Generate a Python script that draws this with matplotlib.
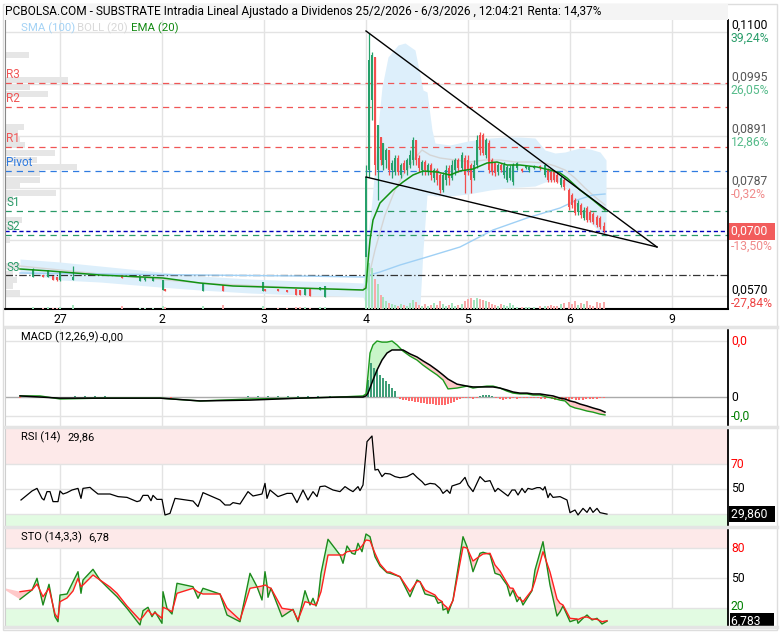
import numpy as np
import matplotlib.pyplot as plt
from matplotlib.patches import Rectangle
from matplotlib.lines import Line2D

plt.rcParams['font.family'] = ['Roboto', 'DejaVu Sans']

W, H = 782, 632

# x axis = 5-minute slots counted from the 27/2 open (one session = 102 slots)
day_pos = [0, 102, 204, 306, 408, 510, 612]
day_lab = ['27', '2', '3', '4', '5', '6', '9']

# ---- candles (price) ----
pre_x = [-27, -17, -12, -7, -3, 0, 13, 62, 80, 85, 93, 103, 105, 143, 163, 203, 205, 218, 227, 236, 240, 245, 250, 260, 265]
pre_o = [.0609, .0613, .0609, .0611, .0609, .0603, .0603, .0613, .0601, .0603, .0601, .0583, .0585, .0581, .0593, .0581, .0585, .0585, .0583, .0585, .0583, .0573, .0585, .0583, .0569]
pre_c = [.0625, .0609, .0623, .0603, .0603, .0619, .0609, .0607, .0609, .0607, .0607, .0603, .0581, .0597, .0581, .0599, .0581, .0581, .0579, .0573, .0573, .0587, .0571, .0589, .0591]
pre_h = [.0627, .0613, .0623, .0611, .0609, .0619, .0631, .0613, .0609, .0607, .0607, .0603, .0585, .0597, .0593, .0599, .0585, .0585, .0583, .0585, .0583, .0587, .0585, .0589, .0591]
pre_l = [.0609, .0609, .0609, .0603, .0601, .0601, .0603, .0607, .0601, .0601, .0601, .0583, .0581, .0581, .0581, .0581, .0581, .0581, .0579, .0573, .0573, .0573, .0571, .0583, .0569]
pre_v = [2, 1, 2, 1, 1, 2, 4, 3, 1, 1, 1, 3, 2, 3, 4, 3, 1, 1, 1, 2, 2, 2, 1, 2, 2]

d4_x = [306, 309, 312, 315, 318, 321, 323, 326, 329, 332, 335, 338, 341, 344, 347, 350, 353, 356, 359, 362,
        365, 368, 371, 374, 377, 380, 383, 386, 389, 392, 395, 398, 402, 405]
d4_o = [.0583, .0823, .0963, .1049, .0823, .0889, .0833, .0843, .0863, .0823, .0819, .0847, .0813, .0837, .0823, .0833, .0843, .0883, .0847, .0823,
        .0839, .0819, .0833, .0807, .0823, .0813, .0783, .0803, .0827, .0807, .0823, .0843, .0827, .0847]
d4_c = [.0809, .1043, .1053, .0833, .0913, .0843, .0877, .0863, .0823, .0837, .0847, .0819, .0833, .0823, .0843, .0853, .0883, .0843, .0827, .0839,
        .0823, .0833, .0813, .0823, .0803, .0783, .0813, .0823, .0807, .0833, .0843, .0827, .0853, .0813]
d4_h = [.0833, .1097, .1059, .1049, .0913, .0889, .0877, .0867, .0863, .0843, .0853, .0853, .0837, .0843, .0847, .0863, .0889, .0883, .0853, .0843,
        .0843, .0837, .0837, .0827, .0827, .0817, .0819, .0833, .0833, .0843, .0847, .0847, .0859, .0853]
d4_l = [.0583, .0809, .0923, .0813, .0763, .0833, .0823, .0827, .0813, .0807, .0813, .0813, .0807, .0817, .0813, .0827, .0833, .0833, .0819, .0813,
        .0813, .0813, .0803, .0799, .0793, .0777, .0779, .0793, .0793, .0803, .0813, .0819, .0823, .0777]
d4_v = [52, 46, 41, 30, 25, 14, 12, 8, 6, 5, 4, 3, 5, 4, 3, 6, 9, 7, 4, 3, 5, 3, 4, 6, 4, 8, 5, 3, 4, 6, 3, 4, 5, 8]

d5_x = [408, 411, 414, 417, 420, 423, 426, 429, 432, 435, 438, 441, 444, 447, 450, 453, 457, 462, 466, 469,
        474, 480, 485, 488, 491, 494, 497, 501, 504]
d5_o = [.0843, .0833, .0807, .0833, .0893, .0893, .0853, .0877, .0843, .0837, .0819, .0833, .0813, .0803, .0807, .0799, .0827, .0825, .0827, .0823,
        .0827, .0831, .0813, .0823, .0819, .0819, .0813, .0793, .0803]
d5_c = [.0823, .0803, .0833, .0883, .0863, .0857, .0883, .0823, .0819, .0817, .0833, .0823, .0833, .0829, .0827, .0833, .0837, .0821, .0831, .0829,
        .0831, .0827, .0833, .0803, .0803, .0803, .0799, .0807, .0789]
d5_h = [.0853, .0837, .0843, .0893, .0899, .0897, .0887, .0883, .0847, .0839, .0837, .0837, .0839, .0833, .0833, .0837, .0839, .0827, .0833, .0831,
        .0833, .0833, .0835, .0827, .0823, .0823, .0819, .0811, .0807]
d5_l = [.0813, .0777, .0803, .0827, .0853, .0853, .0847, .0817, .0813, .0811, .0813, .0819, .0807, .0799, .0803, .0793, .0823, .0819, .0825, .0819,
        .0825, .0823, .0809, .0799, .0799, .0799, .0797, .0789, .0783]
d5_v = [10, 11, 9, 11, 10, 9, 8, 7, 5, 4, 3, 5, 4, 3, 6, 4, 2, 2, 2, 2, 2, 3, 3, 3, 4, 3, 3, 5, 6]

d6_x = [509, 512, 515, 518, 521, 524, 527, 530, 533, 537, 540, 544]
d6_o = [.0783, .0773, .0763, .0739, .0753, .0727, .0747, .0739, .0735, .0729, .0727, .0711]
d6_c = [.0749, .0753, .0737, .0757, .0733, .0743, .0723, .0723, .0719, .0713, .0709, .0701]
d6_h = [.0787, .0777, .0767, .0763, .0757, .0749, .0751, .0743, .0739, .0733, .0731, .0719]
d6_l = [.0743, .0747, .0733, .0733, .0727, .0723, .0719, .0719, .0715, .0709, .0705, .0697]
d6_v = [7, 5, 8, 4, 6, 5, 8, 4, 3, 7, 6, 7]

# ---- overlays ----
ema_x = [-40, -10, 40, 103, 140, 173, 237, 303, 306, 308, 310, 313, 320, 333, 343, 353, 363, 377, 390, 400,
         413, 427, 437, 447, 460, 477, 490, 500, 507, 520, 533, 545]
ema_y = [.0625, .0621, .0613, .0607, .0597, .0591, .0587, .0583, .0587, .0639, .0683, .0723, .0757, .0783, .0799, .0813, .0821, .0819, .0813, .0821,
         .0825, .0837, .0839, .0833, .0833, .0829, .0823, .0817, .0807, .0783, .0763, .0743]
sma_x = [-40, 40, 140, 240, 303, 320, 340, 367, 400, 433, 467, 500, 517, 533, 545]
sma_y = [.0617, .0615, .0613, .0611, .0609, .0619, .0633, .0649, .0669, .0703, .0727, .0747, .0763, .0773, .0775]
band_x = [-40, 0, 40, 100, 140, 190, 240, 280, 303, 306, 312, 318, 322, 328, 338, 345, 355, 360, 363, 367,
          372, 375, 390, 408, 430, 445, 460, 475, 485, 495, 505, 512, 520, 530, 540, 546]
band_hi = [.0645, .0639, .0631, .0619, .0611, .0605, .0601, .0599, .0597, .0663, .0763, .0909, .0989, .1049, .1073, .1077, .1063, .1013, .0983, .0979,
           .0903, .0877, .0873, .0881, .0887, .0889, .0889, .0887, .0863, .0857, .0859, .0863, .0867, .0865, .0859, .0843]
band_lo = [.0619, .0603, .0599, .0589, .0583, .0577, .0573, .0571, .0569, .0553, .0549, .0549, .0549, .0549, .0549, .0549, .0549, .0553, .0663, .0773,
           .0773, .0771, .0771, .0775, .0783, .0787, .0789, .0791, .0799, .0803, .0793, .0763, .0739, .0719, .0699, .0689]
mid_x = [-40, 40, 140, 240, 303, 308, 315, 325, 335, 345, 355, 362, 370, 380, 395, 410, 425, 440, 455, 470,
         485, 495, 505, 515, 525, 535, 545]
mid_y = [.0631, .0615, .0597, .0587, .0583, .0603, .0663, .0733, .0783, .0819, .0847, .0863, .0853, .0847, .0843, .0839, .0843, .0843, .0839, .0839,
         .0837, .0831, .0823, .0807, .0787, .0769, .0753]
trend_up_x = [306, 597]
trend_up_y = [.1101, .0669]
trend_lo_x = [306, 597]
trend_lo_y = [.0809, .0669]

# pivots
piv_names = ['R3', 'R2', 'R1', 'Pivot', 'S1', 'S2', 'S3']
piv_lvls = [.0997, .0949, .0869, .0821, .0741, .0693, .0612]
last_price = 0.0700

# volume-by-price profile on the left (relative volume)
prof_p = [.1053, .1003, .0989, .0975, .0909, .0897, .0885, .0873, .0857, .0843, .0829, .0817, .0803, .0791, .0777, .0765,
          .0723, .0709, .0683, .0631, .0615, .0603, .0591, .0577]
prof_v = [24, 63, 25, 43, 19, 13, 15, 20, 50, 32, 72, 35, 35, 15, 51, 8, 17, 8, 5, 15, 8, 12, 8, 15]

price_ticks = [0.1100, 0.0995, 0.0891, 0.0787, 0.0683, 0.0570]
price_lab = ['0,1100', '0,0995', '0,0891', '0,0787', '', '0,0570']
pct_lab = ['39,24%', '26,05%', '12,86%', '-0,32%', '', '-27,84%']

# ---- MACD (x1e-4) ----
macd_x = [-40, -20, 0, 40, 100, 140, 190, 240, 280, 303, 306, 308, 310, 313, 317, 322, 327, 332, 337, 343,
          350, 357, 363, 370, 377, 383, 388, 397, 407, 413, 420, 427, 433, 440, 447, 453, 460, 467, 473, 480,
          487, 493, 500, 505, 510, 515, 520, 527, 533, 540, 545]
macd_g = [0.4, 0.4, -0.7, -0.4, -0.4, -1.4, -0.7, -0.4, 0, 0.4, 1.1, 7.9, 15.7, 18.6, 20.0, 19.6, 19.6, 20.0, 18.6, 16.4,
          14.6, 13.2, 11.4, 9.6, 7.9, 6.1, 2.9, 3.2, 3.9, 3.2, 3.6, 3.9, 3.9, 3.2, 2.1, 1.4, 1.1, 1.1, 0.7, 0.7,
          0, -0.4, -1.1, -1.4, -3.2, -3.9, -4.3, -5.0, -5.4, -6.1, -6.4]
macd_b = [0.4, 0, -0.4, -0.4, -0.4, -1.4, -1.1, -0.4, 0, 0, 0.4, 1.4, 3.2, 6.1, 9.6, 13.2, 15.7, 16.8, 16.8, 16.8,
          15.4, 14.3, 12.9, 11.4, 9.6, 7.9, 6.4, 4.6, 3.9, 3.6, 3.6, 3.6, 3.6, 3.2, 2.5, 1.8, 1.4, 1.4, 1.1, 1.1,
          0.7, 0.4, -0.4, -0.7, -1.4, -1.8, -2.5, -3.2, -3.9, -4.6, -5.4]
hist_x = [-40, 15, 25, 35, 45, 111, 188, 198, 208, 218, 228, 238, 248, 258, 270,
          308, 311, 314, 317, 320, 323, 326, 329, 332, 335, 340, 343, 346, 349, 352, 355, 358, 361, 364, 367,
          370, 373, 376, 379, 382, 385, 388, 391, 394, 397, 400, 403, 406, 410, 413, 417, 420, 423, 426, 429,
          432, 436, 440, 443, 446, 450, 453, 457, 460, 464, 467, 471, 474, 478, 481, 485, 488, 492, 495, 499,
          502, 506, 509, 512, 516, 519, 523, 526, 530, 533, 537, 540, 544]
hist_v = [-0.4, 0.4, 0.4, 0.4, 0.4, -0.4, 0.4, 0.4, 0.4, 0.4, 0.4, 0.4, 0.4, 0.4, 0.4,
          6.1, 12.1, 10.4, 9.6, 7.9, 6.8, 5.7, 4.6, 3.2, 2.1, -0.7, -1.1, -1.1, -1.4, -1.4, -1.8, -1.8, -2.1, -2.1, -2.5,
          -2.5, -2.5, -2.9, -2.9, -2.9, -2.9, -2.5, -2.1, -1.8, -1.1, -0.7, -0.4, -0.4, -0.4, -0.7, -0.4, 0.4, 0.7, 0.7, 0.7,
          0.4, -0.4, -0.7, -1.1, -0.7, -0.7, -0.4, -0.7, -0.4, -0.4, -0.4, -0.4, -0.4, -0.4, -0.7, -0.7, -0.4, -0.7, -1.1, -1.1,
          -1.1, -1.1, -1.1, -0.7, -1.1, -1.1, -1.1, -0.7, -0.7, -0.7, -0.7, -0.4, -0.4]

# ---- RSI ----
rsi_x = [-39, -28, -23, -18, -16, -13, -10, -7, -2, 0, 3, 7, 12, 18, 21, 23, 30, 33, 38, 50,
         58, 67, 77, 80, 83, 88, 91, 93, 97, 102, 105, 110, 115, 133, 138, 143, 160, 165, 170, 173,
         180, 188, 193, 202, 205, 207, 210, 218, 227, 232, 237, 243, 248, 253, 257, 260, 265, 273, 280, 285,
         290, 293, 298, 300, 303, 307, 312, 315, 318, 322, 325, 330, 335,
         340, 347, 353, 357, 362, 365, 370, 375, 380, 383, 387, 390, 392, 400, 405, 408, 413, 420, 425, 430,
         435, 438, 448, 452, 455, 458, 462, 465, 468, 472, 477, 480, 483, 485, 488, 490, 493, 500, 507, 510,
         515, 518, 523, 527, 530, 533, 537, 540, 547]
rsi_v = [41.2, 48.4, 50.5, 42.5, 41.2, 47.9, 47.9, 39.9, 39.9, 48.4, 46, 47.1, 49.2, 50.5, 42.5, 50.5, 51.3, 49.2, 46, 46,
         43.9, 43.3, 39.9, 40.6, 44.9, 44.9, 40.6, 44.9, 41.7, 41.7, 29.2, 30.5, 42.5, 40.4, 35.9, 47.1, 41.2, 37.2, 37.2, 39.1,
         38, 47.9, 44.4, 46, 54.5, 42.5, 49.2, 43.9, 46.5, 46.5, 39.1, 49.2, 41.2, 47.9, 43.9, 51.9, 52.4, 49.2, 47.9, 51.9,
         49.2, 47.9, 51.9, 48.7, 53.2, 87.9, 92.4, 65.2, 65.7, 59.9, 62.5, 62, 59.9,
         59.0, 59.9, 62.5, 59.3, 55.9, 53.2, 54.5, 54, 50.5, 46.5, 49.2, 46.5, 52.4, 54.5, 59.3, 53.2, 47.9, 59.9, 55.9, 56.7,
         47.9, 50.5, 44.4, 49.2, 49.2, 45.2, 50.5, 47.1, 50.5, 49.7, 51.1, 51.1, 49.2, 51.9, 43.1, 46.5, 43.3, 43.9, 41.2, 31.1,
         33.2, 29.2, 34.5, 31.3, 35.3, 31.3, 34.5, 31.1, 29.9]

# ---- Stochastic ----
sto_x = [-55, -40, -28, -23, -17, -11, -5, -2, 0, 7, 13, 18, 21, 23, 33, 40, 50, 57, 67, 80,
         83, 88, 92, 95, 102, 103, 107, 112, 117, 133, 138, 143, 160, 167, 180, 190, 197, 202, 205, 207,
         208, 211, 222, 233, 238, 245, 250, 253, 256, 258, 261, 268, 280, 283, 287, 292, 295, 298, 302, 306,
         310, 315, 320, 327,
         330, 340, 350, 357, 360, 365, 375, 378, 382, 383, 387, 388, 393, 403, 407, 413, 420, 423, 430, 435,
         440, 447, 450, 453, 457, 460, 463, 472, 475, 483, 490, 497, 500, 503, 510, 517, 518, 523, 527, 532,
         537, 542, 547]
sto_k = [38, 28.7, 38, 49.7, 23, 43.7, 11.3, 6.3, 33, 34, 46.3, 56.3, 34.7, 48, 58.7, 48, 38, 31.3, 19.7, 3,
         17.3, 20.7, 11.3, 16.3, 4.7, 36.3, 19.7, 14, 44.7, 41.3, 29.7, 39.7, 34, 13, 6.3, 54.7, 41.3, 28, 56.3, 43,
         30.7, 39.7, 11.3, 18.7, 6.3, 37.3, 23, 29.7, 22, 28, 54.7, 88.7, 73, 64.7, 82, 74.7, 73.7, 84.7, 76.3, 94,
         91.3, 71.3, 62, 55.3,
         54.7, 51.3, 31.3, 48, 46.3, 34, 31.3, 24.7, 26.3, 18, 19.7, 14.7, 28, 91.3, 81.3, 56.3, 74.7, 75.7, 73.7, 54.7,
         53, 43, 32, 38, 26.3, 30.7, 23, 37.3, 58, 86.3, 43, 12, 16.3, 22, 6.3, 8.7, 4.7, 9.7, 13, 8,
         9.7, 4, 6.8]
sto_d = [39.7, 36.3, 38, 44, 31.3, 39.7, 14, 9.7, 26.3, 30, 37, 49.7, 41.3, 43, 53, 48, 41, 34.7, 22, 8,
         11.3, 18, 13, 15.3, 9.7, 20.7, 19, 16.3, 34.7, 39.7, 36, 34, 34, 20, 8, 39.7, 41, 42, 43, 42,
         41, 39.7, 19.7, 18, 8, 26.3, 25, 23.5, 23, 28, 36.3, 73, 73, 73, 76.3, 77, 77.5, 78, 82, 88,
         87.3, 74.7, 64, 56,
         56, 51.3, 36.3, 46.5, 46.3, 38, 33, 29, 26.5, 24, 20.5, 18, 27.5, 81, 80, 67, 72, 74, 74.7, 63,
         57, 45, 40, 39.7, 32, 29, 26.3, 38, 47, 76.3, 56, 29, 24.7, 23, 9.7, 9, 8.5, 10.7, 11, 9,
         8.7, 6.3, 7.3]

# ---------------------------------------------------------------
GREEN, RED = '#26a06a', '#f24e4e'
VGREEN, VRED = '#a3e3bd', '#f8a9a9'
GRID = '#e3e3e3'
FS = 8.3   # axis labels
FL = 8.0   # panel headers / legend

fig = plt.figure(figsize=(W / 100, H / 100), dpi=100)


def panel(top, bottom):
    return fig.add_axes([5 / W, 1 - bottom / H, 723 / W, (bottom - top) / H])


ax = panel(20, 309)
axm = panel(327, 427)
axr = panel(427, 527)
axs = panel(527, 627)

for a in (ax, axm, axr, axs):
    a.set_xlim(-55, 668)
    for d in day_pos:
        a.axvline(d, color=GRID, lw=1, zorder=0)
    a.set_yticks([])
    a.tick_params(axis='x', length=0)
    for s in ('top', 'bottom'):
        a.spines[s].set_visible(False)
    a.spines['left'].set_color('#cfcfcf')
    a.spines['right'].set_color('black')
    a.spines['right'].set_linewidth(1.3)
    if a is not ax:
        a.set_xticks([])

# ---- main price panel ----
ax.set_ylim(0.0545, 0.1123)
ax.spines['bottom'].set_visible(True)
ax.spines['bottom'].set_color('black')
ax.spines['bottom'].set_linewidth(1.5)
ax.spines['left'].set_color('#888888')
ax.set_xticks(day_pos, day_lab, fontsize=8.8)
ax.tick_params(axis='x', pad=3)
for p in price_ticks:
    ax.axhline(p, color=GRID, lw=1, zorder=0)

ytr = ax.get_yaxis_transform()
xtr = ax.get_xaxis_transform()
for p, v in zip(prof_p, prof_v):
    ax.add_patch(Rectangle((0, p - 0.0006), v / 723, 0.0012, transform=ytr,
                           facecolor='#e6e6e6', lw=0, zorder=0.5))

ax.fill_between(band_x, band_lo, band_hi, color='#ddeffb', lw=0, zorder=1)

piv_col = ['#f05656', '#f05656', '#f05656', '#2f7be0', '#2a9a68', '#2a9a68', '#2a9a68']
for name, lv, col in zip(piv_names, piv_lvls, piv_col):
    ls = (0, (6, 2, 1, 2)) if name == 'S3' else (0, (5, 4))
    lc = '#333333' if name == 'S3' else col
    ax.axhline(lv, color=lc, lw=0.9, ls=ls, zorder=2)
    ax.text(0.002, lv + 0.0003, name, transform=ytr, color=col, fontsize=8.5, va='bottom', ha='left', zorder=6)
ax.axhline(last_price, color='#0000bb', lw=1, ls=(0, (3, 2)), zorder=2)

ax.plot(mid_x, mid_y, color='#d5d5d5', lw=1, zorder=2.5)
ax.plot(sma_x, sma_y, color='#9fd0f5', lw=1, zorder=2.6)

cx = pre_x + d4_x + d5_x + d6_x
co = pre_o + d4_o + d5_o + d6_o
cc = pre_c + d4_c + d5_c + d6_c
chi = pre_h + d4_h + d5_h + d6_h
clo = pre_l + d4_l + d5_l + d6_l
cv = pre_v + d4_v + d5_v + d6_v
up = [c >= o for o, c in zip(co, cc)]
cols = [GREEN if u else RED for u in up]
ax.vlines(cx, clo, chi, colors=cols, lw=0.9, zorder=3)
ax.bar(cx, [max(abs(c - o), 0.00018) for o, c in zip(co, cc)], bottom=[min(o, c) for o, c in zip(co, cc)],
       width=2.0, color=cols, lw=0, zorder=3)
ax.bar(cx, [v / 290 for v in cv], bottom=0, width=2.0, color=[VGREEN if u else VRED for u in up],
       lw=0, transform=xtr, zorder=3.5)
ax.set_ylim(0.0545, 0.1123)

ax.plot(ema_x, ema_y, color='#129212', lw=1.1, zorder=4)
ax.plot(trend_up_x, trend_up_y, color='black', lw=1, zorder=4.5)
ax.plot(trend_lo_x, trend_lo_y, color='black', lw=1, zorder=4.5)

pcol = ['black', '#555555', '#555555', '#555555', '', 'black']
pctc = ['#2a9d6a', '#55bb8a', '#55bb8a', '#f08a8a', '', '#ee4444']
for p, pl, pc, c1, c2 in zip(price_ticks, price_lab, pct_lab, pcol, pctc):
    if pl:
        ax.text(1.004, p, pl, transform=ytr, color=c1, fontsize=FS + 0.4, va='bottom', ha='left')
        ax.text(1.004, p, pc, transform=ytr, color=c2, fontsize=FS + 0.4, va='top', ha='left')
ax.text(1.004, last_price, '0,0700  ', transform=ytr, color='white', fontsize=FS + 0.4, va='center', ha='left',
        bbox=dict(boxstyle='square,pad=0.15', fc='#f25c5c', ec='none'))
ax.text(1.004, last_price - 0.0016, '-13,50%', transform=ytr, color='#f08a8a', fontsize=FS + 0.4, va='top', ha='left')

# ---- MACD ----
axm.set_ylim(-10.7, 25.0)
for v in (20.0, -6.8):
    axm.axhline(v, color=GRID, lw=1, zorder=0)
axm.axhline(0, color='#aaaaaa', lw=1, zorder=0.5)
mg, mb = np.array(macd_g), np.array(macd_b)
axm.fill_between(macd_x, mg, mb, where=mg >= mb, interpolate=True, color='#c9f5c9', lw=0, zorder=1)
axm.fill_between(macd_x, mg, mb, where=mg < mb, interpolate=True, color='#ffc9c9', lw=0, zorder=1)
axm.bar(hist_x, hist_v, width=1.6, color=['#3f9e78' if v > 0 else '#ff6b6b' for v in hist_v], lw=0, zorder=2)
axm.plot(macd_x, macd_g, color='#1c9a1c', lw=1, zorder=3)
axm.plot(macd_x, macd_b, color='black', lw=1.1, zorder=3)
mtr = axm.get_yaxis_transform()
axm.text(1.004, 20.0, '0,0', transform=mtr, color='#ff0000', fontsize=FS + 0.4, va='center')
axm.text(1.004, 0, '0', transform=mtr, color='black', fontsize=FS + 0.4, va='center')
axm.text(1.004, -6.8, '-0,0', transform=mtr, color='#008000', fontsize=FS + 0.4, va='center')
axm.text(0.022, 0.9, 'MACD (12,26,9)', transform=axm.transAxes, fontsize=FL, va='center')
axm.text(0.131, 0.9, '-0,00', transform=axm.transAxes, fontsize=FL, va='center')

# ---- RSI ----
axr.set_ylim(19.6, 99.6)
axr.axhspan(70, 100, color='#fde9e9', lw=0, zorder=0)
axr.axhspan(19, 30, color='#e2fbe2', lw=0, zorder=0)
for v in (70, 50, 30):
    axr.axhline(v, color=GRID, lw=1, zorder=0.5)
axr.plot(rsi_x, rsi_v, color='black', lw=0.9, zorder=3)
rtr = axr.get_yaxis_transform()
axr.text(1.004, 70, '70', transform=rtr, color='#ff0000', fontsize=FS + 0.4, va='center')
axr.text(1.004, 50, '50', transform=rtr, color='black', fontsize=FS + 0.4, va='center')
axr.text(1.004, 29.86, '29,860  ', transform=rtr, color='white', fontsize=FS + 0.4, va='center',
         bbox=dict(boxstyle='square,pad=0.15', fc='black', ec='none'))
axr.text(0.022, 0.9, 'RSI (14)', transform=axr.transAxes, fontsize=FL, va='center')
axr.text(0.087, 0.9, '29,86', transform=axr.transAxes, fontsize=FL, va='center')

# ---- Stochastic ----
axs.set_ylim(1, 101)
axs.axhspan(80, 101, color='#fde9e9', lw=0, zorder=0)
axs.axhspan(0, 20, color='#e2fbe2', lw=0, zorder=0)
for v in (80, 50, 20):
    axs.axhline(v, color=GRID, lw=1, zorder=0.5)
sk, sd = np.array(sto_k), np.array(sto_d)
axs.fill_between(sto_x, sk, sd, where=sk >= sd, interpolate=True, color='#c9f5c9', lw=0, zorder=1)
axs.fill_between(sto_x, sk, sd, where=sk < sd, interpolate=True, color='#ffc9c9', lw=0, zorder=1)
axs.plot(sto_x[1:], sto_k[1:], color='#1c8a1c', lw=1, zorder=3)
axs.plot(sto_x[1:], sto_d[1:], color='#ff2020', lw=1, zorder=3)
str_ = axs.get_yaxis_transform()
axs.text(1.004, 80, '80', transform=str_, color='#ff0000', fontsize=FS + 0.4, va='center')
axs.text(1.004, 50, '50', transform=str_, color='black', fontsize=FS + 0.4, va='center')
axs.text(1.004, 21, '20', transform=str_, color='#008000', fontsize=FS + 0.4, va='center')
axs.text(1.004, 7.2, '6,783    ', transform=str_, color='white', fontsize=FS + 0.4, va='center',
         bbox=dict(boxstyle='square,pad=0.1', fc='black', ec='none'))
axs.text(0.022, 0.9, 'STO (14,3,3)', transform=axs.transAxes, fontsize=FL, va='center')
axs.text(0.115, 0.9, '6,78', transform=axs.transAxes, fontsize=FL, va='center')

# ---- frame, title, legend ----
fig.add_artist(Rectangle((3 / W, 1 - 630 / H), 774 / W, 626 / H, transform=fig.transFigure,
                         fill=False, ec='#dddddd', lw=1))
fig.add_artist(Rectangle((5 / W, 1 - 20 / H), 723 / W, 16 / H, transform=fig.transFigure,
                         fc='#f4f4f4', ec='none'))
for yy in (327, 427, 527, 627):
    fig.add_artist(Line2D([5 / W, 777 / W], [1 - yy / H] * 2, color='#e4e4e4', lw=2.5))

fig.text(5 / W, 1 - 11 / H,
         'PCBOLSA.COM - SUBSTRATE Intradia Lineal Ajustado a Dividenos 25/2/2026 - 6/3/2026 , 12:04:21 Renta: 14,37%',
         fontsize=8.6, va='center', ha='left')
fig.text(21 / W, 1 - 28 / H, 'SMA (100)', color='#a3d2f5', fontsize=FL + 0.2, va='center')
fig.text(77 / W, 1 - 28 / H, 'BOLL (20)', color='#d8d8d8', fontsize=FL + 0.2, va='center')
fig.text(131 / W, 1 - 28 / H, 'EMA (20)', color='#128a12', fontsize=FL + 0.2, va='center')

fig.savefig('out.png', dpi=100)
